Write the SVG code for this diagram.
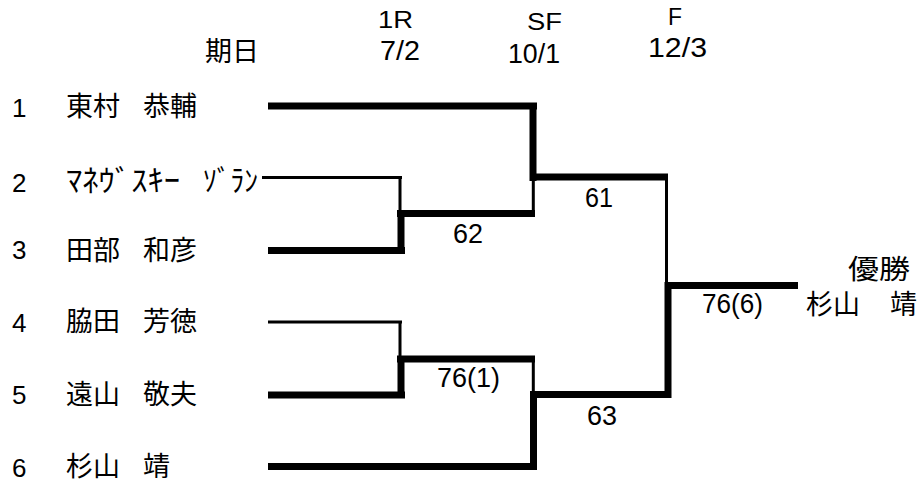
<svg xmlns="http://www.w3.org/2000/svg" width="923" height="486" viewBox="0 0 923 486">
<style>
.bg{fill:#ffffff}
.jp{font-family:"Noto Sans CJK JP","Noto Sans CJK SC",sans-serif;font-size:27px;fill:#000}
.kana{font-size:30px}
.num{font-family:"Liberation Sans",Arial,sans-serif;font-size:26px;fill:#000}
.hd{font-family:"Liberation Sans",Arial,sans-serif;font-size:23px;fill:#000}
.sc{font-family:"Liberation Sans",Arial,sans-serif;font-size:27px;fill:#000}
.thick{stroke:#000;stroke-width:7;fill:none;stroke-linecap:butt}
.thin{stroke:#000;stroke-width:3;fill:none;stroke-linecap:butt}
</style>
<rect class="bg" x="0" y="0" width="923" height="486"/>
<g id="headers">
<text class="jp" x="205" y="61">期日</text>
<text class="hd" x="378" y="28" textLength="35" lengthAdjust="spacingAndGlyphs">1R</text>
<text class="sc" x="380" y="60" textLength="40" lengthAdjust="spacingAndGlyphs">7/2</text>
<text class="hd" x="527" y="30" textLength="35" lengthAdjust="spacingAndGlyphs">SF</text>
<text class="sc" x="508" y="63" textLength="52" lengthAdjust="spacingAndGlyphs">10/1</text>
<text class="hd" x="668" y="25" textLength="14" lengthAdjust="spacingAndGlyphs">F</text>
<text class="sc" x="648" y="57" textLength="59" lengthAdjust="spacingAndGlyphs">12/3</text>
</g>
<g id="p1"><text class="num" x="12" y="117">1</text><text class="jp" y="116"><tspan x="66">東村</tspan><tspan x="143">恭輔</tspan></text></g>
<g id="p2"><text class="num" x="12" y="192">2</text><text class="jp kana" y="191"><tspan x="66" textLength="114" lengthAdjust="spacingAndGlyphs">ﾏﾈｳﾞｽｷｰ</tspan><tspan x="203" textLength="55" lengthAdjust="spacingAndGlyphs">ｿﾞﾗﾝ</tspan></text></g>
<g id="p3"><text class="num" x="12" y="259">3</text><text class="jp" y="260"><tspan x="66">田部</tspan><tspan x="143">和彦</tspan></text></g>
<g id="p4"><text class="num" x="12" y="332">4</text><text class="jp" y="331"><tspan x="66">脇田</tspan><tspan x="143">芳徳</tspan></text></g>
<g id="p5"><text class="num" x="12" y="404">5</text><text class="jp" y="404"><tspan x="66">遠山</tspan><tspan x="143">敬夫</tspan></text></g>
<g id="p6"><text class="num" x="12" y="477">6</text><text class="jp" y="476"><tspan x="66">杉山</tspan><tspan x="143">靖</tspan></text></g>
<g id="champion">
<text class="jp" x="848" y="279" textLength="62" lengthAdjust="spacingAndGlyphs">優勝</text>
<text class="jp" y="314"><tspan x="806">杉山</tspan><tspan x="890">靖</tspan></text>
</g>
<g id="scores">
<text class="sc" x="585" y="207" textLength="28" lengthAdjust="spacingAndGlyphs">61</text>
<text class="sc" x="453" y="243" textLength="30" lengthAdjust="spacingAndGlyphs">62</text>
<text class="sc" x="437" y="387" textLength="63" lengthAdjust="spacingAndGlyphs">76(1)</text>
<text class="sc" x="587" y="425" textLength="30" lengthAdjust="spacingAndGlyphs">63</text>
<text class="sc" x="702" y="313" textLength="61" lengthAdjust="spacingAndGlyphs">76(6)</text>
</g>
<g id="connectors">
<path class="thin" d="M262 177.5H402M400 176V214M268 322H402M400 320.5V359M533.3 181V214M533.3 359V394M666.5 177V286"/>
<path class="thick" d="M268 106H537M533 102.5V181M530 177H668"/>
<path class="thick" d="M397 213.5H535M268 250.5H405M401 210V254"/>
<path class="thick" d="M397 359H535M268 395H405M401 355.5V398.5"/>
<path class="thick" d="M268 466.5H537M533.5 391V470M530 394.5H671M668 282V398M665 285.5H798"/>
</g>
</svg>
